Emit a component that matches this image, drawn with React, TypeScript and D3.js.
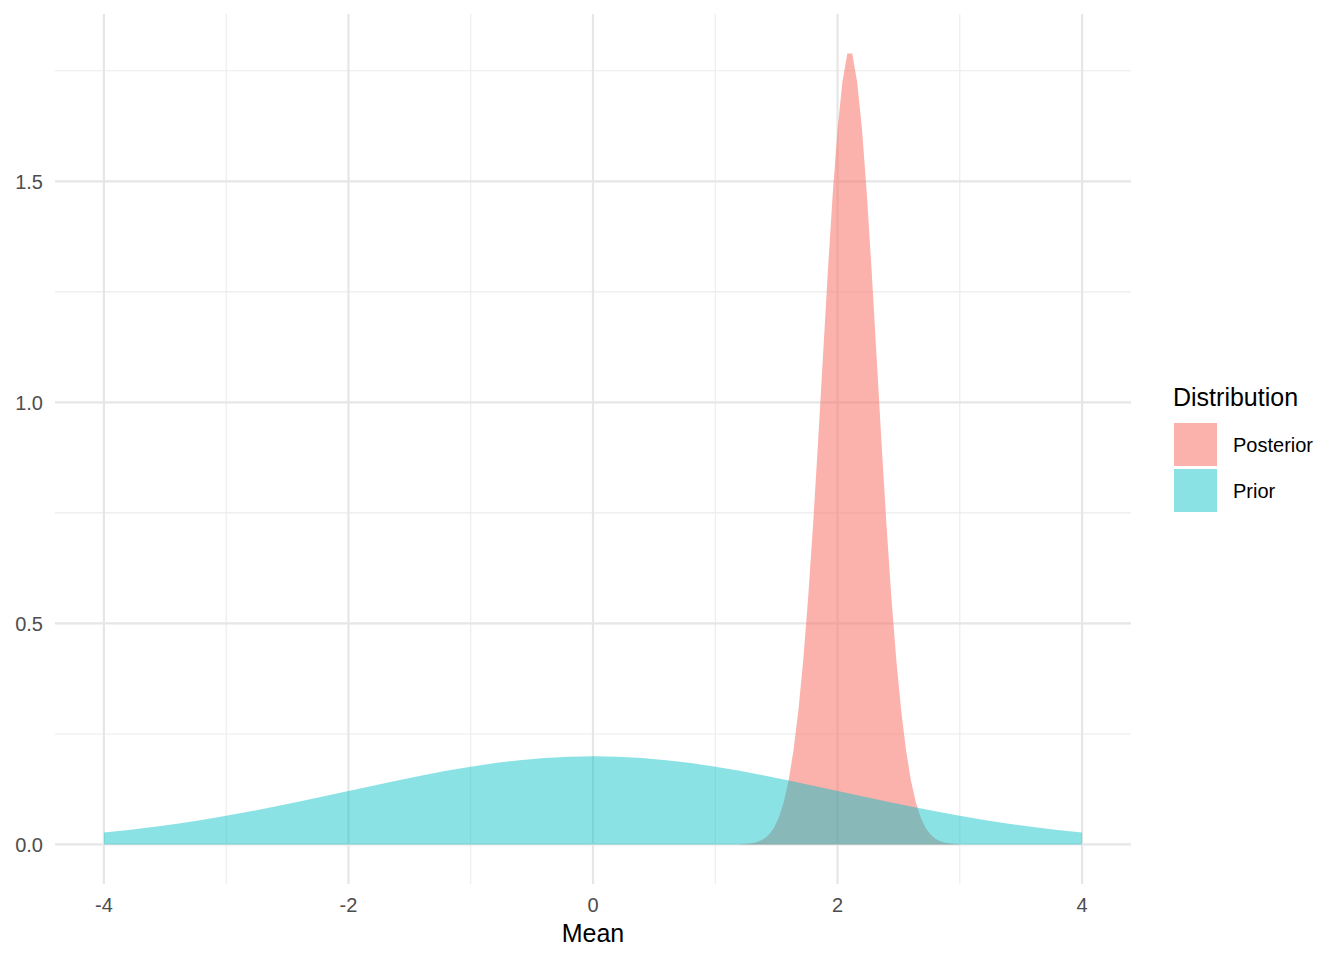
import React from "react"
import * as d3 from "d3"

// grid of x positions the densities were evaluated on
const priorX = d3.range(-4, 4.01, 0.2)
const priorY = [
  0.027, 0.0328, 0.0395, 0.047, 0.0555, 0.0648, 0.0749, 0.0857, 0.0971, 0.1089,
  0.121, 0.133, 0.1448, 0.1561, 0.1666, 0.176, 0.1841, 0.1907, 0.1955, 0.1985,
  0.1995,
  0.1985, 0.1955, 0.1907, 0.1841, 0.176, 0.1666, 0.1561, 0.1448, 0.133, 0.121,
  0.1089, 0.0971, 0.0857, 0.0749, 0.0648, 0.0555, 0.047, 0.0395, 0.0328, 0.027
]

const posteriorX = d3.range(1.2, 3.01, 0.04)
const posteriorY = [
  0.0005, 0.0011, 0.0021, 0.0039, 0.0073, 0.013, 0.0224, 0.0375, 0.0608, 0.0953,
  0.1449, 0.2131, 0.3036, 0.4188, 0.5596, 0.7238, 0.9067, 1.1, 1.292, 1.469,
  1.618, 1.725, 1.789,
  1.789, 1.725, 1.618, 1.469, 1.292, 1.1, 0.9067, 0.7238, 0.5596, 0.4188,
  0.3036, 0.2131, 0.1449, 0.0953, 0.0608, 0.0375, 0.0224, 0.013, 0.0073, 0.0039,
  0.0021, 0.0011, 0.0005
]

const series = ["Posterior", "Prior"]
const colors = ["#F8766D", "#00BFC4"]
const alphas = [0.57, 0.46]

const xMajor = [-4, -2, 0, 2, 4]
const xMinor = [-3, -1, 1, 3]
const yMajor = [0, 0.5, 1.0, 1.5]
const yMinor = [0.25, 0.75, 1.25, 1.75]

const W = 1344
const H = 960
const panel = { left: 55, right: 1131, top: 14, bottom: 884 }
const font = "'Liberation Sans', Arial, Helvetica, sans-serif"

export default function App() {
  const xExt = [-4, 4]
  const xPad = (xExt[1] - xExt[0]) * 0.05
  const x = d3
    .scaleLinear()
    .domain([xExt[0] - xPad, xExt[1] + xPad])
    .range([panel.left, panel.right])

  const yMax = d3.max(posteriorY) as number
  const yPad = yMax * 0.05
  const y = d3
    .scaleLinear()
    .domain([-yPad, yMax + yPad])
    .range([panel.bottom, panel.top])

  const area = d3
    .area<[number, number]>()
    .x(d => x(d[0]))
    .y0(y(0))
    .y1(d => y(d[1]))

  const post = posteriorX.map((v, i) => [v, posteriorY[i]] as [number, number])
  const prior = priorX.map((v, i) => [v, priorY[i]] as [number, number])

  return (
    <div style={{ position: "absolute", left: 0, top: 0 }}>
      <svg width={W} height={H} style={{ display: "block", background: "white" }}>
        {/* minor grid */}
        {xMinor.map(v => (
          <line key={"xm" + v} x1={x(v)} x2={x(v)} y1={panel.top} y2={panel.bottom} stroke="#EBEBEB" strokeWidth={1.1} />
        ))}
        {yMinor.map(v => (
          <line key={"ym" + v} x1={panel.left} x2={panel.right} y1={y(v)} y2={y(v)} stroke="#EBEBEB" strokeWidth={1.1} />
        ))}
        {/* major grid */}
        {xMajor.map(v => (
          <line key={"xM" + v} x1={x(v)} x2={x(v)} y1={panel.top} y2={panel.bottom} stroke="#E6E6E6" strokeWidth={2.2} />
        ))}
        {yMajor.map(v => (
          <line key={"yM" + v} x1={panel.left} x2={panel.right} y1={y(v)} y2={y(v)} stroke="#E6E6E6" strokeWidth={2.2} />
        ))}

        <path d={area(post) as string} fill={colors[0]} fillOpacity={alphas[0]} />
        <path d={area(prior) as string} fill={colors[1]} fillOpacity={alphas[1]} />

        {/* axis labels */}
        {yMajor.map(v => (
          <text key={"yl" + v} x={43} y={y(v) + 7.3} textAnchor="end" fontFamily={font} fontSize={20} fill="#4D4D4D">
            {d3.format(".1f")(v)}
          </text>
        ))}
        {xMajor.map(v => (
          <text key={"xl" + v} x={x(v)} y={912} textAnchor="middle" fontFamily={font} fontSize={20} fill="#4D4D4D">
            {v}
          </text>
        ))}
        <text x={(panel.left + panel.right) / 2} y={942} textAnchor="middle" fontFamily={font} fontSize={25} fill="#000">
          Mean
        </text>

        {/* legend */}
        <text x={1173} y={406} fontFamily={font} fontSize={25} fill="#000">
          Distribution
        </text>
        {series.map((s, i) => (
          <g key={s} transform={`translate(1174, ${423 + i * 46})`}>
            <rect width={43} height={43} fill={colors[i]} fillOpacity={alphas[i]} />
            <text x={59} y={29} fontFamily={font} fontSize={20} fill="#000">
              {s}
            </text>
          </g>
        ))}
      </svg>
    </div>
  )
}
